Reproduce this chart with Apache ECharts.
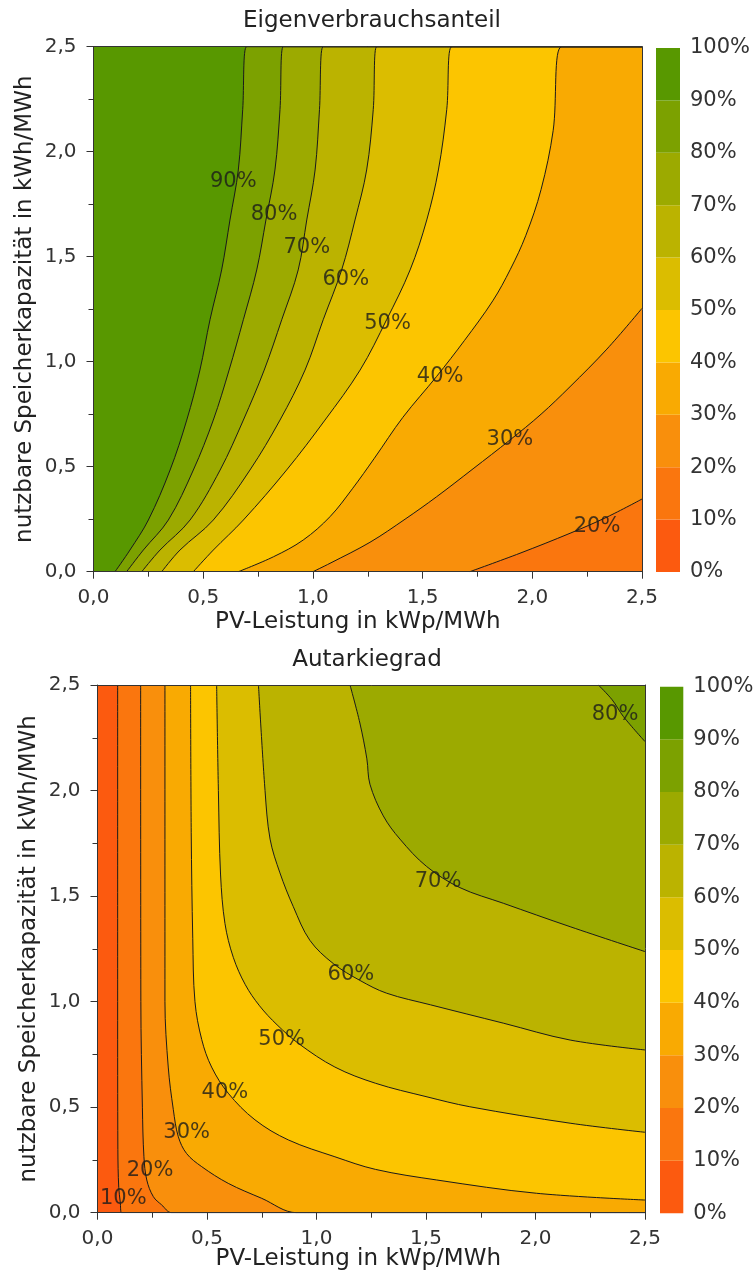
<!DOCTYPE html>
<html>
<head>
<meta charset="utf-8">
<title>Eigenverbrauchsanteil / Autarkiegrad</title>
<script src="https://cdn.jsdelivr.net/npm/echarts/dist/echarts.min.js"></script>
<style>
  html, body { margin: 0; padding: 0; background: #fff; }
  #chart { width: 756px; height: 1279px; }
</style>
</head>
<body>
<div id="chart"></div>
<script>
// colour steps 0-10 % ... 90-100 %
var bandColors = ['#fc5a0f', '#fa760e', '#f98f0c', '#f9aa02', '#fcc500',
                  '#dbbd00', '#bbb300', '#9caa00', '#7ca100', '#589800'];
var cbLevels = [0, 10, 20, 30, 40, 50, 60, 70, 80, 90, 100];

// ---- Eigenverbrauchsanteil: contour lines [PV, Speicher] ----
var evLevels = [90, 80, 70, 60, 50, 40, 30, 20];
var ev90 = [[0.098,0],[0.166,0.103],[0.25,0.246],[0.349,0.484],[0.425,0.722],[0.485,0.96],[0.531,1.2],[0.584,1.437],[0.622,1.675],[0.66,1.913],[0.68,2.2],[0.698,2.5]];
var ev80 = [[0.151,0],[0.227,0.103],[0.341,0.246],[0.455,0.484],[0.546,0.722],[0.618,0.96],[0.683,1.2],[0.744,1.437],[0.786,1.675],[0.827,1.913],[0.85,2.2],[0.865,2.5]];
var ev70 = [[0.22,0],[0.303,0.103],[0.44,0.246],[0.577,0.484],[0.683,0.722],[0.778,0.96],[0.858,1.2],[0.933,1.437],[0.972,1.675],[1.01,1.913],[1.03,2.2],[1.047,2.5]];
var ev60 = [[0.311,0],[0.394,0.103],[0.546,0.246],[0.713,0.484],[0.85,0.722],[0.964,0.96],[1.047,1.2],[1.131,1.437],[1.192,1.675],[1.245,1.913],[1.275,2.2],[1.291,2.5]];
var ev50 = [[0.455,0],[0.546,0.103],[0.683,0.246],[0.88,0.484],[1.055,0.722],[1.215,0.96],[1.336,1.2],[1.443,1.437],[1.519,1.675],[1.572,1.913],[1.61,2.2],[1.633,2.5]];
var ev40 = [[0.66,0],[0.82,0.071],[0.956,0.151],[1.078,0.262],[1.18,0.395],[1.28,0.54],[1.41,0.735],[1.564,0.93],[1.69,1.1],[1.82,1.29],[1.9,1.44],[1.97,1.6],[2.04,1.82],[2.095,2.1],[2.134,2.5]];
var ev30 = [[1.0,0],[1.078,0.04],[1.26,0.14],[1.42,0.25],[1.564,0.357],[1.73,0.49],[1.898,0.627],[2.04,0.75],[2.172,0.881],[2.34,1.06],[2.5,1.254]];
var ev20 = [[1.715,0],[1.944,0.088],[2.172,0.183],[2.34,0.26],[2.5,0.346]];
var evLines = [ev90, ev80, ev70, ev60, ev50, ev40, ev30, ev20];
var evLabelPos = [[0.637,1.857],[0.823,1.699],[0.972,1.544],[1.15,1.389],[1.34,1.183],[1.58,0.927],[1.898,0.627],[2.295,0.213]];

// ---- Autarkiegrad ----
var auLevels = [10, 20, 30, 40, 50, 60, 70, 80];
var au10 = [[0.092,2.5],[0.092,1.0],[0.093,0.3],[0.097,0.12],[0.104,0.05],[0.11,0]];
var au20 = [[0.197,2.5],[0.198,1.0],[0.205,0.5],[0.212,0.265],[0.225,0.155],[0.255,0.076],[0.293,0.037],[0.339,0]];
var au30 = [[0.308,2.5],[0.308,1.0],[0.323,0.69],[0.346,0.49],[0.369,0.36],[0.407,0.28],[0.476,0.218],[0.597,0.139],[0.75,0.068],[0.91,0]];
var au40 = [[0.425,2.5],[0.428,1.8],[0.435,1.3],[0.445,1.0],[0.476,0.82],[0.521,0.69],[0.597,0.566],[0.719,0.44],[0.871,0.345],[1.084,0.265],[1.27,0.205],[1.549,0.155],[2.005,0.092],[2.5,0.06]];
var au50 = [[0.544,2.5],[0.552,2.0],[0.562,1.6],[0.582,1.37],[0.62,1.21],[0.675,1.08],[0.74,0.98],[0.82,0.89],[0.92,0.8],[1.084,0.69],[1.27,0.613],[1.5,0.55],[1.7,0.502],[2.158,0.424],[2.5,0.381]];
var au60 = [[0.735,2.5],[0.765,2.0],[0.788,1.77],[0.833,1.61],[0.894,1.45],[0.97,1.29],[1.077,1.18],[1.199,1.1],[1.32,1.04],[1.52,0.985],[1.853,0.898],[2.158,0.818],[2.5,0.771]];
var au70 = [[1.153,2.5],[1.198,2.32],[1.23,2.15],[1.244,2.03],[1.305,1.88],[1.381,1.77],[1.503,1.64],[1.655,1.54],[1.853,1.466],[2.158,1.355],[2.5,1.237]];
var au80 = [[2.287,2.5],[2.35,2.43],[2.401,2.351],[2.5,2.232]];
var auLines = [au10, au20, au30, au40, au50, au60, au70, au80];
var auLabelPos = [[0.118,0.065],[0.24,0.202],[0.407,0.382],[0.582,0.567],[0.841,0.818],[1.157,1.127],[1.555,1.567],[2.363,2.359]];

var xMin = 0, xMax = 2.5, yMin = 0, yMax = 2.5;
var font = 'DejaVu Sans';

function comma(v) { return v.toFixed(1).replace('.', ','); }

// filled bands: every contour paints the region on its low (top) / high (bottom) side
function contourSeries(lines, levels, axisIdx, lowSide) {
  return lines.map(function (pts, i) {
    var data = pts.slice();
    var last = data[data.length - 1];
    if (last[0] < xMax) data.push([xMax, lowSide ? yMax : yMin]);
    var band = lowSide ? levels[i] / 10 - 1 : levels[i] / 10;
    return {
      type: 'line', xAxisIndex: axisIdx, yAxisIndex: axisIdx,
      data: data, symbol: 'none', silent: true, smooth: 0.35,
      lineStyle: { color: '#1a1a1a', width: 1 },
      areaStyle: { color: bandColors[band], opacity: 1, origin: lowSide ? 'start' : 'end' }
    };
  });
}

function labelSeries(pos, levels, axisIdx) {
  return {
    type: 'scatter', xAxisIndex: axisIdx, yAxisIndex: axisIdx, silent: true,
    symbolSize: 1, itemStyle: { color: 'transparent' }, z: 10,
    data: pos.map(function (p, i) { return { value: p, name: levels[i] + '%' }; }),
    label: { show: true, position: 'inside', formatter: '{b}', fontSize: 21, fontFamily: font, color: '#1a1a1a' }
  };
}

function colorbarSeries(axisIdx) {
  return bandColors.map(function (c, i) {
    return {
      type: 'bar', xAxisIndex: axisIdx, yAxisIndex: axisIdx, stack: 'cb' + axisIdx,
      data: [cbLevels[i + 1] - cbLevels[i]], barWidth: '100%', silent: true,
      itemStyle: { color: c }
    };
  });
}

function plotX(grid, namePad, gap) {
  return {
    type: 'value', gridIndex: grid, min: xMin, max: xMax, interval: 0.5, z: 5,
    name: 'PV-Leistung in kWp/MWh', nameLocation: 'middle', nameGap: gap, nameMoveOverlap: false,
    nameTextStyle: { fontSize: 23, fontFamily: font, color: '#222', padding: [0, namePad, 0, 0] },
    axisLine: { show: true, onZero: false, lineStyle: { color: '#333' } },
    axisTick: { show: true, length: 7, lineStyle: { color: '#333' } },
    minorTick: { show: true, splitNumber: 2, length: 5, lineStyle: { color: '#333' } },
    axisLabel: { fontSize: 20, fontFamily: font, color: '#333', margin: 16, verticalAlign: 'top', formatter: comma },
    splitLine: { show: false }
  };
}
function plotY(grid) {
  return {
    type: 'value', gridIndex: grid, min: yMin, max: yMax, interval: 0.5, z: 5,
    name: 'nutzbare Speicherkapazität in kWh/MWh', nameLocation: 'middle', nameGap: 57, nameMoveOverlap: false,
    nameTextStyle: { fontSize: 23, fontFamily: font, color: '#222' },
    axisLine: { show: true, onZero: false, lineStyle: { color: '#333' } },
    axisTick: { show: true, length: 7, lineStyle: { color: '#333' } },
    minorTick: { show: true, splitNumber: 2, length: 5, lineStyle: { color: '#333' } },
    axisLabel: { fontSize: 20, fontFamily: font, color: '#333', margin: 17, align: 'right', formatter: comma },
    splitLine: { show: false }
  };
}
function frameAxis(grid, pos) {
  var horiz = pos === 'top';
  return {
    type: 'value', gridIndex: grid, position: pos, min: horiz ? xMin : yMin, max: horiz ? xMax : yMax, z: 5,
    axisLine: { show: true, onZero: false, lineStyle: { color: '#333' } },
    axisTick: { show: false }, axisLabel: { show: false }, splitLine: { show: false }
  };
}
function cbX(grid) {
  return { type: 'category', gridIndex: grid, data: ['cb'], show: false };
}
function cbY(grid) {
  return {
    type: 'value', gridIndex: grid, position: 'right', min: 0, max: 100, interval: 10,
    axisLine: { show: false }, axisTick: { show: false }, splitLine: { show: false },
    axisLabel: { fontSize: 21, fontFamily: font, color: '#333', margin: 10, formatter: '{value}%',
                 showMinLabel: true, showMaxLabel: true }
  };
}

var chart = echarts.init(document.getElementById('chart'), null, { renderer: 'canvas' });

var option = {
  animation: false,
  backgroundColor: '#fff',
  textStyle: { fontFamily: font },
  title: [
    { text: 'Eigenverbrauchsanteil', left: 372, top: 10, textAlign: 'center', padding: 0,
      textStyle: { fontSize: 23, fontWeight: 'normal', color: '#222', fontFamily: font } },
    { text: 'Autarkiegrad', left: 367, top: 649, textAlign: 'center', padding: 0,
      textStyle: { fontSize: 23, fontWeight: 'normal', color: '#222', fontFamily: font } }
  ],
  grid: [
    { left: 93.5, top: 46.7, width: 548.5, height: 525, show: true, borderWidth: 0,
      backgroundColor: bandColors[9], outerBoundsMode: 'none' },
    { left: 656, top: 48, width: 24, height: 524, outerBoundsMode: 'none' },
    { left: 97.5, top: 685, width: 547.5, height: 527.7, show: true, borderWidth: 0,
      backgroundColor: bandColors[0], outerBoundsMode: 'none' },
    { left: 660, top: 686.7, width: 23.3, height: 526.6, outerBoundsMode: 'none' }
  ],
  xAxis: [plotX(0, 20, 39), frameAxis(0, 'top'), cbX(1), plotX(2, 26, 35), frameAxis(2, 'top'), cbX(3)],
  yAxis: [plotY(0), frameAxis(0, 'right'), cbY(1), plotY(2), frameAxis(2, 'right'), cbY(3)],
  series: []
};

// axis indices: top plot 0, top colorbar 2, bottom plot 3, bottom colorbar 5
option.series = option.series
  .concat(contourSeries(evLines, evLevels, 0, true))
  .concat([labelSeries(evLabelPos, evLevels, 0)])
  .concat(colorbarSeries(2))
  .concat(contourSeries(auLines, auLevels, 3, false))
  .concat([labelSeries(auLabelPos, auLevels, 3)])
  .concat(colorbarSeries(5));

chart.setOption(option);
</script>
</body>
</html>
